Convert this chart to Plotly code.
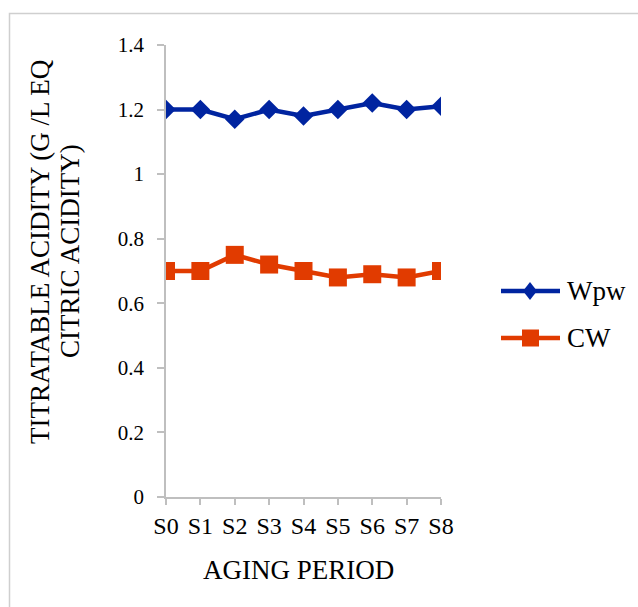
import plotly.graph_objects as go

categories = ["S0", "S1", "S2", "S3", "S4", "S5", "S6", "S7", "S8"]
wpw = [1.20, 1.20, 1.17, 1.20, 1.18, 1.20, 1.22, 1.20, 1.21]
cw = [0.70, 0.70, 0.75, 0.72, 0.70, 0.68, 0.69, 0.68, 0.70]
series_names = ["Wpw", "CW"]
y_ticks = [0, 0.2, 0.4, 0.6, 0.8, 1, 1.2, 1.4]
y_labels = ["0", "0.2", "0.4", "0.6", "0.8", "1", "1.2", "1.4"]

W, H = 638, 607
L, R, T, B = 166, 441, 45, 497
pw, ph = R - L, B - T

def px(x):
    return (x - L) / pw

def py(y):
    return (B - y) / ph

FONT = "Liberation Serif, Times New Roman, serif"
blue = "#0024a0"
orange = "#e13b00"

fig = go.Figure()
fig.add_trace(go.Scatter(
    x=list(range(len(categories))), y=wpw, name=series_names[0], mode="lines+markers",
    line=dict(color=blue, width=4.5),
    marker=dict(symbol="diamond", size=15, color=blue),
))
fig.add_trace(go.Scatter(
    x=list(range(len(categories))), y=cw, name=series_names[1], mode="lines+markers",
    line=dict(color=orange, width=4.5),
    marker=dict(symbol="square", size=18, color=orange),
))

fig.update_layout(
    width=W, height=H,
    margin=dict(l=L, r=W - R, t=T, b=H - B),
    paper_bgcolor="white", plot_bgcolor="white",
    font=dict(family=FONT, color="black", size=21),
    showlegend=False,
    xaxis=dict(
        range=[0, 8], tickmode="array", tickvals=list(range(len(categories))),
        ticktext=categories, showgrid=False, zeroline=False,
        showline=True, linecolor="#bfbfbf", linewidth=1.5,
        ticks="outside", ticklen=6, tickcolor="#bfbfbf", tickwidth=1.5,
        tickfont=dict(family=FONT, size=24),
    ),
    yaxis=dict(
        range=[0, 1.4], tickmode="array", tickvals=y_ticks, ticktext=y_labels,
        showgrid=False, zeroline=False,
        showline=True, linecolor="#bfbfbf", linewidth=1.5,
        ticks="outside", ticklen=7, tickcolor="#bfbfbf", tickwidth=1.5,
        tickfont=dict(family=FONT, size=21), ticklabelstandoff=9,
    ),
)

# axis titles
fig.add_annotation(
    xref="paper", yref="paper", x=px(298), y=py(570),
    text="AGING PERIOD", showarrow=False, xanchor="center", yanchor="middle",
    font=dict(family=FONT, size=27, color="black"),
)
fig.add_annotation(
    xref="paper", yref="paper", x=px(40), y=py(252),
    text="TITRATABLE ACIDITY (G /L EQ",
    textangle=-90, showarrow=False, xanchor="center", yanchor="middle",
    font=dict(family=FONT, size=27, color="black"),
)
fig.add_annotation(
    xref="paper", yref="paper", x=px(70), y=py(251),
    text="CITRIC ACIDITY)",
    textangle=-90, showarrow=False, xanchor="center", yanchor="middle",
    font=dict(family=FONT, size=27, color="black"),
)

# legend (drawn manually to match the long legend lines)
leg_rows = [(291, blue, "diamond"), (338, orange, "square")]
for (yy, col, sym), nm in zip(leg_rows, series_names):
    fig.add_shape(type="line", xref="paper", yref="paper",
                  x0=px(501), x1=px(560), y0=py(yy), y1=py(yy),
                  line=dict(color=col, width=4.5))
    if sym == "diamond":
        path = (f"M {px(530)},{py(yy - 9)} L {px(537)},{py(yy)} "
                f"L {px(530)},{py(yy + 9)} L {px(523)},{py(yy)} Z")
        fig.add_shape(type="path", xref="paper", yref="paper", path=path,
                      fillcolor=col, line=dict(color=col, width=0))
    else:
        fig.add_shape(type="rect", xref="paper", yref="paper",
                      x0=px(522), x1=px(539), y0=py(yy + 8.5), y1=py(yy - 8.5),
                      fillcolor=col, line=dict(color=col, width=0))
    fig.add_annotation(xref="paper", yref="paper", x=px(565), y=py(yy),
                       text=nm, showarrow=False, xanchor="left", yanchor="middle",
                       font=dict(family=FONT, size=27, color="black"))

fig.add_shape(
    type="rect", xref="paper", yref="paper",
    x0=px(9.5), x1=px(680), y0=py(660), y1=py(13.5),
    line=dict(color="#cfcfcf", width=1.5), fillcolor="rgba(0,0,0,0)", layer="below",
)

fig.write_html("out.html")
